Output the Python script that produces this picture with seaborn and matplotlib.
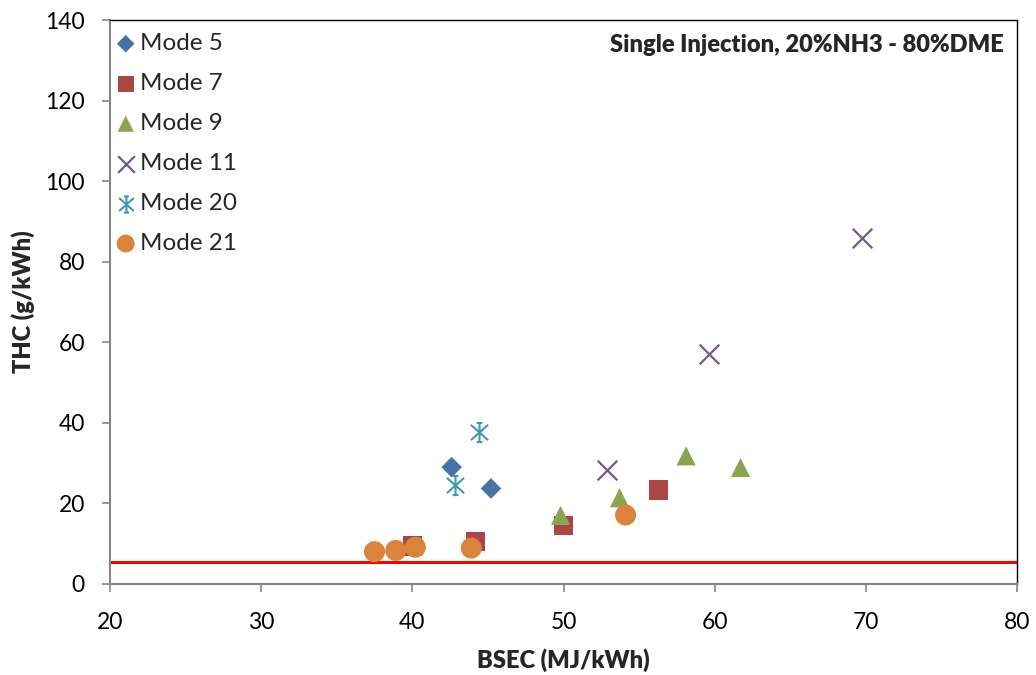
import pandas as pd
import seaborn as sns
import matplotlib.pyplot as plt
from matplotlib.path import Path

# values
modes = ['Mode 5', 'Mode 7', 'Mode 9', 'Mode 11', 'Mode 20', 'Mode 21']
bsec_5 = [42.6, 45.2]
thc_5 = [29.0, 23.7]
bsec_7 = [40.0, 44.2, 50.0, 56.3]
thc_7 = [9.4, 10.5, 14.4, 23.3]
bsec_9 = [49.8, 53.7, 58.1, 61.7]
thc_9 = [17.0, 21.4, 31.8, 28.9]
bsec_11 = [52.9, 59.6, 69.7]
thc_11 = [28.3, 57.0, 86.0]
bsec_20 = [42.8, 44.4]
thc_20 = [24.6, 37.8]
bsec_21 = [37.5, 38.9, 40.2, 43.9, 54.1]
thc_21 = [8.0, 8.3, 9.1, 8.9, 17.1]
limit_thc = 5.5

# excel-like star marker: vertical bar + X with small caps
star = Path([(0, -1), (0, 1), (-0.9, -0.8), (0.9, 0.8), (-0.9, 0.8), (0.9, -0.8),
             (-0.3, 1), (0.3, 1), (-0.3, -1), (0.3, -1)],
            [Path.MOVETO, Path.LINETO] * 5)

colors = ['#4572A7', '#AA4643', '#89A54E', '#71588F', '#4198AF', '#DB843D']
markers = ['D', 's', '^', 'x', star, 'o']
sizes = [110, 190, 190, 200, 190, 230]
lws = [0, 0, 0, 1.6, 1.5, 0]

frames = []
for m, xs, ys in zip(modes, [bsec_5, bsec_7, bsec_9, bsec_11, bsec_20, bsec_21],
                     [thc_5, thc_7, thc_9, thc_11, thc_20, thc_21]):
    frames.append(pd.DataFrame({'BSEC': xs, 'THC': ys, 'Mode': m}))
df = pd.concat(frames, ignore_index=True)

sns.set_style('white')
plt.rcParams['font.family'] = ['Lato', 'DejaVu Sans']

fig = plt.figure(figsize=(10.36, 6.75), dpi=100)
ax = fig.add_axes([0.106, 0.135, 0.876, 0.835])

ax.axhline(limit_thc, color='#FF0000', lw=2.2, zorder=1)

for m, c, mk, s, lw in zip(modes, colors, markers, sizes, lws):
    sub = df[df['Mode'] == m]
    sns.scatterplot(data=sub, x='BSEC', y='THC', ax=ax, color=c, marker=mk,
                    s=s, linewidth=lw, edgecolor=c if lw else 'none', label=m, zorder=3)

ax.set_xlim(20, 80)
ax.set_ylim(0, 140)
ax.set_xticks(range(20, 81, 10))
ax.set_yticks(range(0, 141, 20))
ax.tick_params(labelsize=16.5, colors='black', length=6, width=1.2, direction='out',
               color='#868686', bottom=True, left=True)
ax.tick_params(axis='y', pad=12)
ax.tick_params(axis='x', pad=14.5)
ax.set_xlabel('BSEC (MJ/kWh)', fontsize=17, fontweight='heavy', labelpad=11)
ax.set_ylabel('THC (g/kWh)', fontsize=17, fontweight='heavy', labelpad=7.5)

for side in ['left', 'bottom']:
    ax.spines[side].set_color('#868686')
    ax.spines[side].set_linewidth(1.5)
for side in ['top', 'right']:
    ax.spines[side].set_color('black')
    ax.spines[side].set_linewidth(1.0)

ax.text(0.985, 0.956, 'Single Injection, 20%NH3 - 80%DME', transform=ax.transAxes,
        ha='right', va='center', fontsize=17, fontweight='heavy')

leg = ax.legend(loc='upper left', bbox_to_anchor=(-0.0066, 0.9945), frameon=False,
                fontsize=17.5, handlelength=1.0, handletextpad=0.08, labelspacing=0.78,
                borderaxespad=0, markerscale=0.85)

fig.savefig('out.png', dpi=100, facecolor='white')
